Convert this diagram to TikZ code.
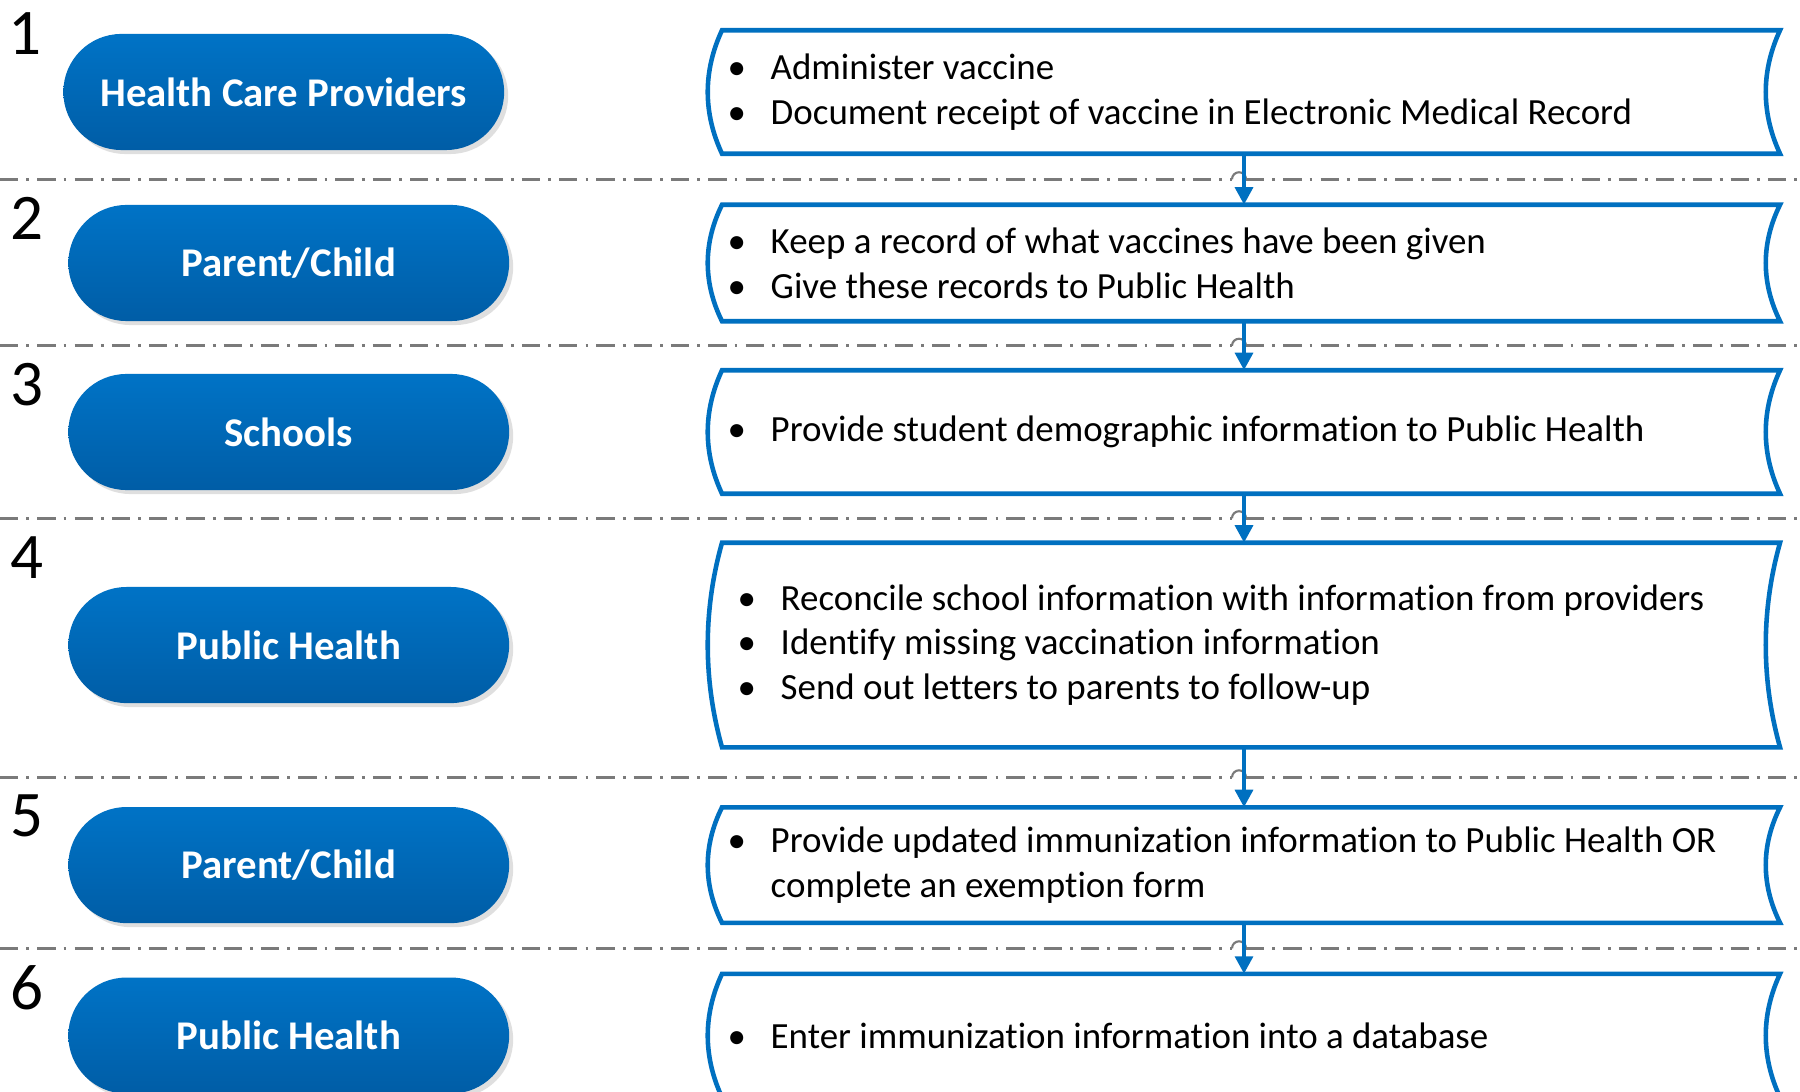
\documentclass[tikz,border=0pt]{standalone}
\usepackage{fontspec}
\setmainfont{Carlito}[Ligatures={NoCommon}]
\usetikzlibrary{shapes.misc,arrows.meta,positioning,calc,shadows}
\definecolor{actortop}{HTML}{0073C6}
\definecolor{actorbot}{HTML}{005DA6}
\definecolor{taskcol}{HTML}{0070C0}
\definecolor{sepcol}{HTML}{7A7A7A}
\tikzstyle{flow} = [-{Triangle[length=5pt,width=5pt]},taskcol,line width=1.4pt]
\tikzstyle{sepline} = [sepcol,line width=0.8pt,dash pattern=on 5.2pt off 2.3pt on 0.8pt off 2.3pt]
\newlength{\bulletw}
\setlength{\bulletw}{0.37cm}
\newlength{\itmindent}
\newcommand{\itm}[1]{\hspace*{\itmindent}\makebox[\bulletw][l]{\hspace*{-0.06cm}\textbullet}#1}
\tikzset{
  actor/.style = {
    rounded rectangle,
    minimum width=4.64cm,
    minimum height=1.16cm,
    top color=actortop,
    bottom color=actorbot,
    draw=none,
    text=white,
    font=\fontsize{11.6}{14}\selectfont\bfseries,
    drop shadow={shadow xshift=0.04cm,shadow yshift=-0.04cm,opacity=0.25},
  },
  task box/.style = {
    shape=rectangle,
    minimum width=10.56cm,
    minimum height=#1,
    text width=10.34cm,
    inner sep=0pt,
    align=flush left,
    font=\fontsize{10.5}{12.75}\selectfont,
    alias=this,
    append after command = {
      \pgfextra{
        \draw[taskcol,line width=1.3pt]
          (this.north west)
          .. controls ($(this.north west)!0.33!(this.south west)+(-19,0)$)
          and ($(this.north west)!0.67!(this.south west)+(-19,0)$) .. (this.south west)
          -- (this.south east)
          .. controls ($(this.north east)!0.67!(this.south east)+(-19,0)$)
          and ($(this.north east)!0.33!(this.south east)+(-19,0)$) .. (this.north east)
          -- cycle;
      }
    }
  },
  stepnum/.style = {font=\fontsize{18.5}{20}\selectfont,inner sep=0pt},
}
\begin{document}
\begin{tikzpicture}[x=0.01cm,y=-0.01cm]
    \useasboundingbox (0,0) rectangle (1800,1092);
    \clip (0,0) rectangle (1800,1092);
    \fill[white] (0,0) rectangle (1800,1092);

    \coordinate (lx) at (0,0);
    \coordinate (hl) at (1232,0);
    \coordinate (hr) at (1246,0);
    \coordinate (rx) at (1800,0);

    % task boxes
    \node[task box=1.22cm] (b1) at (1251,92)
        {\itm{Administer vaccine}\\\itm{Document receipt of vaccine in Electronic Medical Record}};
    \node[task box=1.15cm, below=0.51cm of b1] (b2)
        {\itm{Keep a record of what vaccines have been given}\\\itm{Give these records to Public Health}};
    \node[task box=1.22cm, below=0.49cm of b2] (b3)
        {\itm{Provide student demographic information to Public Health}};
    \node[task box=2.03cm, below=0.49cm of b3] (b4)
        {\setlength{\itmindent}{0.1cm}\itm{Reconcile school information with information from providers}\\
         \itm{Identify missing vaccination information}\\\itm{Send out letters to parents to follow-up}};
    \node[task box=1.14cm, below=0.60cm of b4] (b5)
        {\itm{Provide updated immunization information to Public Health OR}\\\hspace*{\bulletw}complete an exemption form};
    \node[task box=1.22cm, below=0.51cm of b5] (b6)
        {\itm{Enter immunization information into a database}};

    % actors
    \node[actor, left=2.12cm of b1, xshift=-0.05cm] (p1) {Health Care Providers};
    \node[actor, left=2.12cm of b2] (p2) {Parent/Child};
    \node[actor, left=2.12cm of b3] (p3) {Schools};
    \node[actor, left=2.12cm of b4] (p4) {Public Health};
    \node[actor, left=2.12cm of b5] (p5) {Parent/Child};
    \node[actor, left=2.12cm of b6] (p6) {Public Health};

    % separators and step numbers
    \node[stepnum] (n1) at (25,34) {1};
    \foreach \a/\b/\j in {b1/b2/2,b2/b3/3,b3/b4/4,b4/b5/5,b5/b6/6} {
        \coordinate (sep\j) at ($(\a.south)!0.5!(\b.north)$);
        \draw[sepline] (sep\j -| lx) -- (sep\j -| hl);
        \draw[sepcol,line width=0.6pt] (sep\j -| hl) arc[start angle=180,end angle=0,radius=0.07cm];
        \draw[sepline] (sep\j -| hr) -- (sep\j -| rx);
        \node[stepnum] (n\j) at ($(sep\j -| lx)+(27,39)$) {\j};
    }

    % Paths
    \foreach \a/\b in {b1/b2,b2/b3,b3/b4,b4/b5,b5/b6}
        \draw[flow] ([xshift=-0.07cm]\a.south) -- ([xshift=-0.07cm]\b.north);

\end{tikzpicture}
\end{document}
